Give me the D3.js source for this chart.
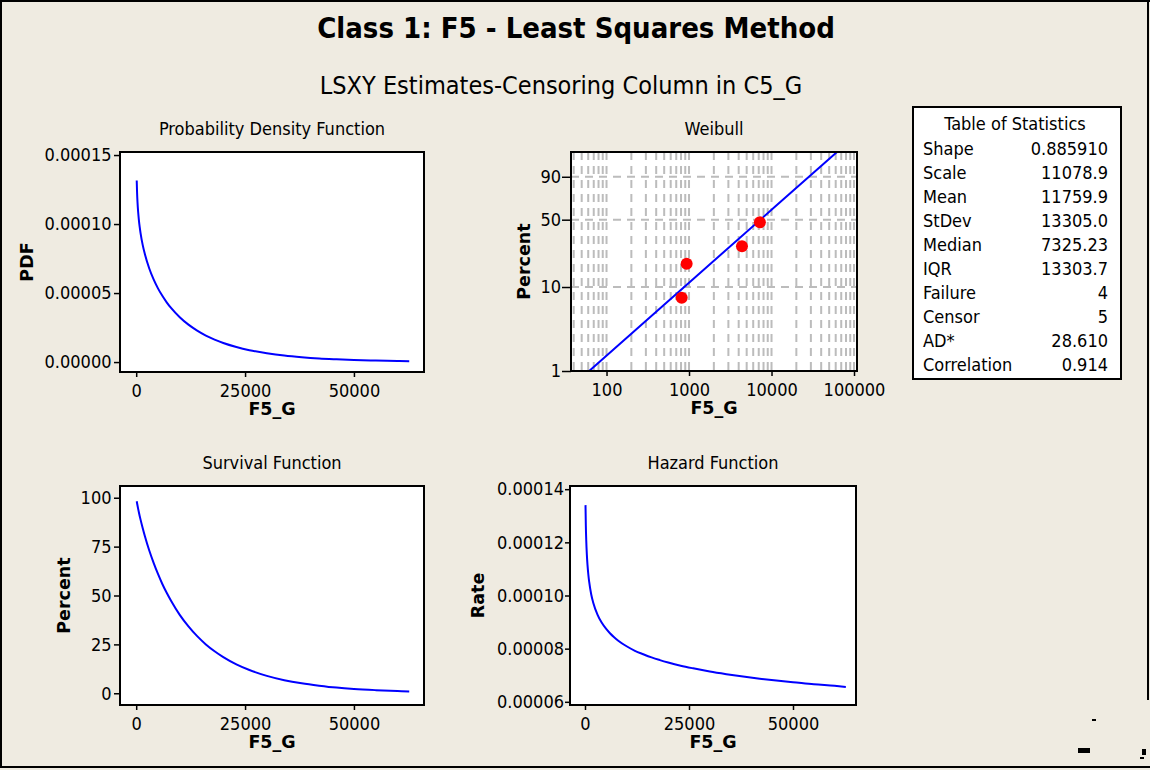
<!DOCTYPE html>
<html>
<head>
<meta charset="utf-8">
<script src="https://cdn.jsdelivr.net/npm/d3@7"></script>
<style>
body { margin: 0; background: #efebe1; }
svg { display: block; }
text { font-family: "DejaVu Sans Condensed", "Liberation Sans", sans-serif; fill: #000; }
.lab { font-family: "DejaVu Sans", "Liberation Sans", sans-serif; font-weight: bold; font-size: 17.5px; }
.tick text { font-size: 18px; }
</style>
</head>
<body>
<div id="chart"></div>
<script>
// values
var timeVals = [120, 200, 300, 450, 600, 800, 1000, 1500, 2000, 3000, 4000, 5000, 6000, 7000, 8000,
  10000, 12000, 14000, 16000, 18000, 20000, 23000, 26000, 30000, 34000, 38000, 42000, 46000,
  50000, 55000, 60000, 62700];
var pdfVals = [1.316e-4, 1.228e-4, 1.158e-4, 1.087e-4, 1.034e-4, 9.79e-5, 9.34e-5, 8.47e-5, 7.81e-5,
  6.78e-5, 5.99e-5, 5.34e-5, 4.80e-5, 4.33e-5, 3.92e-5, 3.25e-5, 2.71e-5, 2.28e-5, 1.92e-5, 1.63e-5,
  1.38e-5, 1.09e-5, 8.6e-6, 6.4e-6, 4.7e-6, 3.5e-6, 2.6e-6, 2.0e-6, 1.5e-6, 1.1e-6, 7.6e-7, 6.3e-7];
var survVals = [98.2, 97.2, 96.0, 94.3, 92.7, 90.7, 88.8, 84.4, 80.3, 73.0, 66.7, 61.0, 55.9, 51.4, 47.3,
  40.1, 34.2, 29.2, 25.0, 21.5, 18.5, 14.8, 11.9, 8.9, 6.7, 5.1, 3.9, 2.9, 2.2, 1.6, 1.15, 0.96];
var hazVals = [1.340e-4, 1.264e-4, 1.207e-4, 1.152e-4, 1.115e-4, 1.079e-4, 1.052e-4, 1.004e-4, 9.72e-5,
  9.28e-5, 8.98e-5, 8.76e-5, 8.58e-5, 8.43e-5, 8.30e-5, 8.09e-5, 7.92e-5, 7.79e-5, 7.67e-5, 7.57e-5,
  7.48e-5, 7.36e-5, 7.26e-5, 7.14e-5, 7.04e-5, 6.95e-5, 6.87e-5, 6.80e-5, 6.74e-5, 6.66e-5, 6.60e-5, 6.56e-5];

var fitT = [61.6, 1000, 11078.9, 62200];
var fitPct = [1, 11.2, 63.2, 99];
var failT = [815, 936, 4385, 7225];
var failPct = [7.5, 18.3, 28.1, 47.5];

var statNames = ["Shape", "Scale", "Mean", "StDev", "Median", "IQR", "Failure", "Censor", "AD*", "Correlation"];
var statValues = ["0.885910", "11078.9", "11759.9", "13305.0", "7325.23", "13303.7", "4", "5", "28.610", "0.914"];

var timeTicks = [0, 25000, 50000];
var pdfTicks = [0, 0.00005, 0.0001, 0.00015];
var survTicks = [0, 25, 50, 75, 100];
var hazTicks = [0.00006, 0.00008, 0.0001, 0.00012, 0.00014];
var wbXTicks = [100, 1000, 10000, 100000];
var wbYTicks = [1, 10, 50, 90];
var wbYGrid = [10, 50, 90];

var svg = d3.select('#chart').append('svg')
  .attr('width', 1150)
  .attr('height', 770);

svg.append('rect').attr('width', 1150).attr('height', 770).attr('fill', '#efebe1');

// outer border
svg.append('rect').attr('x', 0).attr('y', 0).attr('width', 1150).attr('height', 2).attr('fill', '#000');
svg.append('rect').attr('x', 0).attr('y', 0).attr('width', 2).attr('height', 768).attr('fill', '#000');
svg.append('rect').attr('x', 0).attr('y', 766).attr('width', 1150).attr('height', 2).attr('fill', '#000');
svg.append('rect').attr('x', 1147).attr('y', 0).attr('width', 2).attr('height', 700).attr('fill', '#000');

svg.append('text').attr('x', 576).attr('y', 38).attr('text-anchor', 'middle')
  .style('font-size', '29px').style('font-weight', 'bold')
  .text('Class 1: F5 - Least Squares Method');
svg.append('text').attr('x', 561).attr('y', 94).attr('text-anchor', 'middle')
  .style('font-size', '25px')
  .text('LSXY Estimates-Censoring Column in C5_G');

function styleAxis(g) {
  g.select('.domain').remove();
  g.selectAll('.tick line').attr('stroke', '#000').attr('stroke-width', 1.5);
  g.selectAll('.tick text').attr('fill', '#000');
}

function drawPanel(o) {
  var g = svg.append('g');
  var w = o.x1 - o.x0, h = o.y1 - o.y0;
  g.append('rect').attr('x', o.x0).attr('y', o.y0).attr('width', w).attr('height', h).attr('fill', '#fff');

  if (o.grid) o.grid(g);

  g.append('g').attr('transform', 'translate(0,' + o.y1 + ')')
    .call(d3.axisBottom(o.x).tickValues(o.xTicks).tickFormat(o.xFmt).tickSize(5).tickPadding(7))
    .call(styleAxis);
  g.append('g').attr('transform', 'translate(' + o.x0 + ',0)')
    .call(d3.axisLeft(o.y).tickValues(o.yTicks).tickFormat(o.yFmt).tickSize(o.yTickLen).tickPadding(o.yPad))
    .call(styleAxis);

  o.marks(g);

  g.append('rect').attr('x', o.x0).attr('y', o.y0).attr('width', w).attr('height', h)
    .attr('fill', 'none').attr('stroke', '#000').attr('stroke-width', 2);

  var cx = (o.x0 + o.x1) / 2;
  g.append('text').attr('x', cx).attr('y', o.y0 - 17).attr('text-anchor', 'middle')
    .style('font-size', '18px').text(o.title);
  g.append('text').attr('class', 'lab').attr('x', cx).attr('y', o.y1 + 43).attr('text-anchor', 'middle')
    .text('F5_G');
  g.append('text').attr('class', 'lab')
    .attr('transform', 'translate(' + o.labX + ',' + ((o.y0 + o.y1) / 2) + ') rotate(-90)')
    .attr('text-anchor', 'middle').text(o.yLabel);
}

function curve(x, y, vals) {
  return function (g) {
    g.append('path')
      .datum(timeVals.map(function (t, i) { return [t, vals[i]]; }))
      .attr('fill', 'none').attr('stroke', '#0000ff').attr('stroke-width', 2)
      .attr('d', d3.line().x(function (d) { return x(d[0]); }).y(function (d) { return y(d[1]); })
        .curve(d3.curveMonotoneX));
  };
}

var fmt5 = d3.format('.5f');
var fmtInt = d3.format('d');

// Probability Density Function
var xPdf = d3.scaleLinear().domain([-3720, 66090]).range([120, 424]);
var yPdf = d3.scaleLinear().domain([-0.0000072, 0.0001522]).range([372, 152]);
drawPanel({
  x0: 120, x1: 424, y0: 152, y1: 372, x: xPdf, y: yPdf,
  xTicks: timeTicks, xFmt: fmtInt, yTicks: pdfTicks, yFmt: fmt5, yTickLen: 6, yPad: 2.5,
  title: 'Probability Density Function', yLabel: 'PDF', labX: 33,
  marks: curve(xPdf, yPdf, pdfVals)
});

// Survival Function
var xSurv = d3.scaleLinear().domain([-3720, 66090]).range([120, 424]);
var ySurv = d3.scaleLinear().domain([-6, 106]).range([705, 486]);
drawPanel({
  x0: 120, x1: 424, y0: 486, y1: 705, x: xSurv, y: ySurv,
  xTicks: timeTicks, xFmt: fmtInt, yTicks: survTicks, yFmt: fmtInt, yTickLen: 6, yPad: 2.5,
  title: 'Survival Function', yLabel: 'Percent', labX: 70,
  marks: curve(xSurv, ySurv, survVals)
});

// Hazard Function
var xHaz = d3.scaleLinear().domain([-3606, 65144]).range([570, 856]);
var yHaz = d3.scaleLinear().domain([0.0000588, 0.0001412]).range([705, 486]);
drawPanel({
  x0: 570, x1: 856, y0: 486, y1: 705, x: xHaz, y: yHaz,
  xTicks: timeTicks, xFmt: fmtInt, yTicks: hazTicks, yFmt: fmt5, yTickLen: 5, yPad: 1,
  title: 'Hazard Function', yLabel: 'Rate', labX: 484,
  marks: curve(xHaz, yHaz, hazVals)
});

// Weibull probability plot
function wTrans(p) { return Math.log(-Math.log(1 - p / 100)); }
var xWb = d3.scaleLog().domain([37.1, 108700]).range([571, 857]);
var yLin = d3.scaleLinear().domain([wTrans(1), wTrans(99)]).range([371, 152]);
var yWb = function (p) { return yLin(wTrans(p)); };
yWb.copy = function () { return yWb; };
yWb.range = function () { return [371, 152]; };
yWb.domain = function () { return [1, 99]; };

svg.append('clipPath').attr('id', 'wbclip').append('rect')
  .attr('x', 571).attr('y', 152).attr('width', 286).attr('height', 219);

drawPanel({
  x0: 571, x1: 857, y0: 152, y1: 371, x: xWb, y: yWb,
  xTicks: wbXTicks, xFmt: fmtInt, yTicks: wbYTicks, yFmt: fmtInt, yTickLen: 9, yPad: 1,
  title: 'Weibull', yLabel: 'Percent', labX: 530,
  grid: function (g) {
    var gr = g.append('g').attr('stroke', '#bcbcbc').attr('stroke-width', 2).attr('stroke-dasharray', '8,6');
    gr.selectAll('.vg').data(xWb.ticks()).enter().append('line')
      .attr('x1', function (d) { return xWb(d); }).attr('x2', function (d) { return xWb(d); })
      .attr('y1', 152).attr('y2', 371);
    gr.selectAll('.hg').data(wbYGrid).enter().append('line')
      .attr('x1', 571).attr('x2', 857)
      .attr('y1', function (d) { return yWb(d); }).attr('y2', function (d) { return yWb(d); });
  },
  marks: function (g) {
    g.append('path')
      .datum(fitT.map(function (t, i) { return [t, fitPct[i]]; }))
      .attr('clip-path', 'url(#wbclip)')
      .attr('fill', 'none').attr('stroke', '#0000ff').attr('stroke-width', 2)
      .attr('d', d3.line().x(function (d) { return xWb(d[0]); }).y(function (d) { return yWb(d[1]); }));
    g.selectAll('.pt').data(failT).enter().append('circle')
      .attr('cx', function (d) { return xWb(d); })
      .attr('cy', function (d, i) { return yWb(failPct[i]); })
      .attr('r', 6).attr('fill', '#ff0000');
  }
});

// Table of Statistics
var tbl = svg.append('g');
tbl.append('rect').attr('x', 913).attr('y', 107).attr('width', 208).attr('height', 272)
  .attr('fill', '#fff').attr('stroke', '#000').attr('stroke-width', 2);
tbl.append('text').attr('x', 1015).attr('y', 130).attr('text-anchor', 'middle')
  .style('font-size', '18px').text('Table of Statistics');
tbl.selectAll('.sn').data(statNames).enter().append('text')
  .attr('x', 923).attr('y', function (d, i) { return 155 + i * 24; })
  .style('font-size', '18px').text(function (d) { return d; });
tbl.selectAll('.sv').data(statValues).enter().append('text')
  .attr('x', 1108).attr('y', function (d, i) { return 155 + i * 24; })
  .attr('text-anchor', 'end').style('font-size', '18px').text(function (d) { return d; });

// small marks in the lower right corner
svg.append('rect').attr('x', 1092).attr('y', 719).attr('width', 4).attr('height', 2).attr('fill', '#000');
svg.append('rect').attr('x', 1078).attr('y', 748).attr('width', 12).attr('height', 5).attr('fill', '#000');
svg.append('rect').attr('x', 1142).attr('y', 749).attr('width', 4).attr('height', 6).attr('fill', '#000');
svg.append('rect').attr('x', 1140).attr('y', 757).attr('width', 4).attr('height', 2).attr('fill', '#000');
</script>
</body>
</html>
